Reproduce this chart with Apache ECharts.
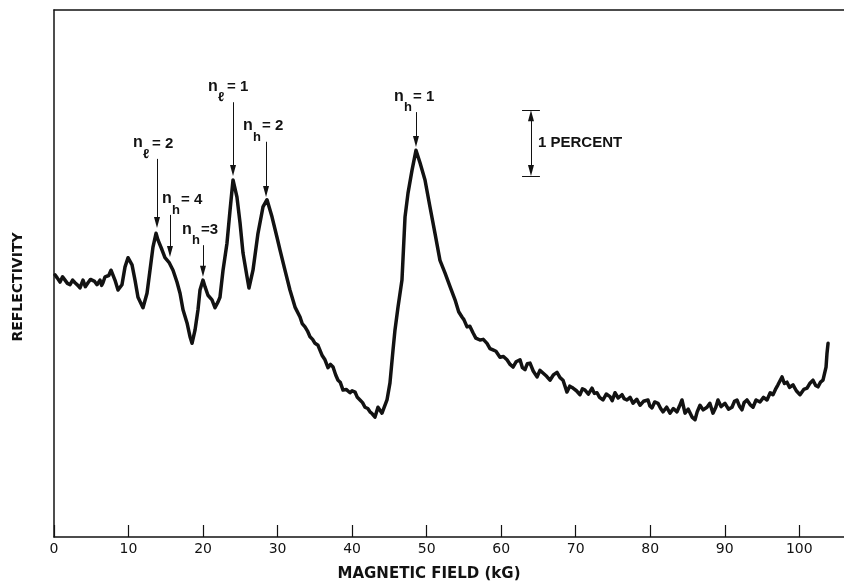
<!DOCTYPE html>
<html lang="en">
<head>
  <meta charset="UTF-8">
  <title>Reflectivity vs magnetic field</title>
  <style>
    * { margin: 0; padding: 0; }
    body { background: #fff; }
    #main { width: 844px; height: 582px; }
  </style>
</head>
<body>
  <div id="main"></div>
  <script src="https://cdn.jsdelivr.net/npm/echarts@6/dist/echarts.min.js"></script>
  <script type="text/javascript">
  // trace: [field kG, reflectivity %]
  var lowField = [
    [0.13, 3.98], [0.45, 3.93], [0.81, 3.87], [1.15, 3.95], [1.48, 3.90], [1.80, 3.85],
    [2.15, 3.83], [2.50, 3.90], [2.82, 3.86], [3.20, 3.82], [3.49, 3.78], [3.89, 3.90],
    [4.20, 3.80], [4.56, 3.86], [4.90, 3.91], [5.10, 3.93], [5.45, 3.88], [5.77, 3.83],
    [6.17, 3.90], [6.40, 3.82], [6.57, 3.86], [6.85, 3.95], [7.11, 3.93], [7.35, 3.97],
    [7.65, 4.05], [8.18, 3.90], [8.59, 3.75], [9.12, 3.83], [9.53, 4.10], [9.93, 4.24],
    [10.47, 4.13], [10.87, 3.90], [11.27, 3.64], [11.94, 3.48]
  ];
  var peakField = [
    [12.48, 3.70], [12.88, 4.05], [13.28, 4.40], [13.69, 4.61], [13.95, 4.51], [14.49, 4.36],
    [14.89, 4.24], [15.43, 4.17], [15.97, 4.05], [16.50, 3.87], [16.91, 3.70], [17.31, 3.45],
    [17.85, 3.25], [18.25, 3.04], [18.52, 2.94], [18.92, 3.14], [19.32, 3.45], [19.59, 3.75],
    [19.99, 3.90], [20.26, 3.80], [20.66, 3.67], [21.20, 3.60], [21.60, 3.48], [22.01, 3.57],
    [22.27, 3.64], [22.68, 4.05], [23.21, 4.46], [23.62, 4.96], [24.02, 5.42], [24.55, 5.16],
    [24.96, 4.77], [25.36, 4.31], [25.90, 3.95], [26.16, 3.78], [26.70, 4.05], [27.37, 4.61],
    [28.04, 5.01], [28.58, 5.12], [29.25, 4.86], [29.92, 4.55], [30.32, 4.36], [30.99, 4.05],
    [31.66, 3.75], [32.34, 3.49], [33.01, 3.34], [33.30, 3.24], [33.68, 3.19], [34.00, 3.13],
    [34.35, 3.04], [34.70, 3.00], [35.02, 2.94], [35.42, 2.91], [35.96, 2.76], [36.36, 2.69],
    [36.76, 2.57], [37.10, 2.62], [37.44, 2.58], [37.80, 2.46], [38.11, 2.38], [38.40, 2.35],
    [38.78, 2.23], [39.20, 2.24], [39.72, 2.19], [40.00, 2.22], [40.39, 2.20], [40.70, 2.12],
    [41.06, 2.08], [41.40, 2.04], [41.73, 1.97], [42.10, 1.95], [42.40, 1.90], [42.70, 1.87],
    [43.07, 1.82], [43.47, 1.97], [44.01, 1.88], [44.68, 2.08], [45.08, 2.34]
  ];
  var mainPeak = [
    [45.49, 2.84], [45.75, 3.14], [46.16, 3.49], [46.69, 3.90], [47.10, 4.86], [47.50, 5.22],
    [48.04, 5.57], [48.57, 5.87], [49.11, 5.68], [49.78, 5.42], [50.45, 5.01], [51.12, 4.61],
    [51.79, 4.20], [52.46, 4.01], [53.14, 3.80], [53.81, 3.60], [54.30, 3.42], [54.74, 3.34],
    [55.00, 3.30], [55.42, 3.19], [55.80, 3.20], [56.22, 3.10], [56.60, 3.02], [57.16, 2.99],
    [57.60, 3.00], [58.10, 2.94], [58.50, 2.86], [58.90, 2.84], [59.30, 2.82], [59.84, 2.73],
    [60.30, 2.74]
  ];
  var tailField = [
    [60.78, 2.69], [61.20, 2.62], [61.59, 2.58], [62.00, 2.66], [62.53, 2.69], [62.85, 2.57],
    [63.20, 2.54], [63.50, 2.63], [63.87, 2.64], [64.30, 2.52], [64.81, 2.43], [65.20, 2.53],
    [65.61, 2.49], [66.10, 2.44], [66.55, 2.38], [67.00, 2.46], [67.49, 2.50], [67.90, 2.42],
    [68.30, 2.38], [68.83, 2.20], [69.20, 2.29], [69.64, 2.26], [70.10, 2.22], [70.58, 2.16],
    [70.90, 2.25], [71.25, 2.23], [71.70, 2.17], [72.19, 2.26], [72.50, 2.18], [72.86, 2.19],
    [73.20, 2.12], [73.66, 2.08], [74.10, 2.17], [74.60, 2.13], [74.90, 2.07], [75.27, 2.19],
    [75.70, 2.11], [76.21, 2.16], [76.50, 2.10], [76.88, 2.08], [77.30, 2.12], [77.69, 2.03],
    [78.20, 2.09], [78.63, 2.00], [79.10, 2.06], [79.70, 2.08], [79.95, 1.99], [80.24, 1.96],
    [80.60, 2.05], [81.04, 2.03], [81.40, 1.95], [81.71, 1.90], [82.20, 1.97], [82.65, 1.88],
    [83.10, 1.95], [83.59, 1.90], [83.90, 1.98], [84.26, 2.08], [84.67, 1.88], [85.10, 1.94],
    [85.61, 1.82], [86.01, 1.78], [86.30, 1.90], [86.68, 2.00], [87.10, 1.93], [87.62, 1.97],
    [88.00, 2.03], [88.42, 1.88], [88.80, 1.97], [89.09, 2.08], [89.50, 1.98], [90.03, 2.03],
    [90.50, 1.94], [90.97, 1.97], [91.30, 2.06], [91.64, 2.08], [92.00, 1.98], [92.31, 1.93],
    [92.60, 2.04], [92.98, 2.08], [93.40, 2.01], [93.79, 1.97], [94.20, 2.08], [94.73, 2.05],
    [95.20, 2.12], [95.67, 2.08], [96.10, 2.19], [96.47, 2.16], [96.80, 2.24], [97.14, 2.31],
    [97.68, 2.43], [98.00, 2.33], [98.35, 2.35], [98.70, 2.27], [99.16, 2.31], [99.60, 2.22],
    [100.10, 2.16], [100.60, 2.24], [101.04, 2.26], [101.40, 2.33], [101.84, 2.38], [102.20, 2.30],
    [102.51, 2.28], [102.85, 2.35], [103.18, 2.38], [103.59, 2.58], [103.72, 2.79], [103.86, 2.94]
  ];
  var fieldTicks = [0, 10, 20, 30, 40, 50, 60, 70, 80, 90, 100];

  // Landau level labels: subscript, rest of label, field of arrow, arrow top, arrow tip
  var levelSub   = ['ℓ', 'h', 'h', 'ℓ', 'h', 'h'];
  var levelRest  = ['= 2', '= 4', '=3', '= 1', '= 2', '= 1'];
  var levelField = [13.82, 15.56, 19.99, 24.02, 28.45, 48.57];
  var levelTop   = [5.74, 4.89, 4.43, 6.60, 6.00, 6.45];
  var levelTip   = [4.69, 4.25, 3.95, 5.48, 5.16, 5.92];
  // scale bar: 1 percent
  var scaleField = 64.0;
  var scaleLow = 5.48;
  var scaleHigh = 6.48;

  var ink = '#121212';
  var labelDx = [-24, -8, -21, -25, -23, -22];
  var pxPerUnit = 527 / 8;
  var headHalf = 5.5 / pxPerUnit;

  var trace = lowField.concat(peakField, mainPeak, tailField);

  var arrows = [];
  for (var i = 0; i < levelField.length; i++) {
    arrows.push([
      { coord: [levelField[i], levelTop[i]], symbol: 'none' },
      { coord: [levelField[i], levelTip[i] + headHalf], symbol: 'triangle' }
    ]);
  }
  // double headed bar + the two caps
  arrows.push([
    { coord: [scaleField, scaleHigh - headHalf], symbol: 'triangle' },
    { coord: [scaleField, scaleLow + headHalf], symbol: 'triangle' }
  ]);
  arrows.push([
    { coord: [scaleField - 1.2, scaleHigh], symbol: 'none' },
    { coord: [scaleField + 1.2, scaleHigh], symbol: 'none' }
  ]);
  arrows.push([
    { coord: [scaleField - 1.2, scaleLow], symbol: 'none' },
    { coord: [scaleField + 1.2, scaleLow], symbol: 'none' }
  ]);

  var myChart = echarts.init(document.getElementById('main'));
  var option = {
    animation: false,
    backgroundColor: '#fff',
    grid: { left: 54, right: 0, top: 10, bottom: 45 },
    xAxis: [
      {
        type: 'value',
        min: 0,
        max: 106,
        position: 'bottom',
        axisLine: { onZero: false, lineStyle: { color: ink, width: 1.5 } },
        axisTick: { inside: true, length: 12, customValues: fieldTicks, lineStyle: { color: ink, width: 1.2 } },
        axisLabel: { customValues: fieldTicks, color: ink, fontSize: 14, fontFamily: 'DejaVu Sans', margin: 5 },
        splitLine: { show: false }
      },
      {
        type: 'value',
        min: 0,
        max: 106,
        position: 'top',
        axisLine: { onZero: false, lineStyle: { color: ink, width: 1.5 } },
        axisTick: { show: false },
        axisLabel: { show: false },
        splitLine: { show: false }
      }
    ],
    yAxis: {
      type: 'value',
      min: 0,
      max: 8,
      axisLine: { show: true, onZero: false, lineStyle: { color: ink, width: 1.5 } },
      axisTick: { show: false },
      axisLabel: { show: false },
      splitLine: { show: false }
    },
    series: [{
      type: 'line',
      data: trace,
      showSymbol: false,
      silent: true,
      lineStyle: { color: ink, width: 3.5, join: 'round', cap: 'round' },
      markLine: {
        silent: true,
        symbolSize: [6, 11],
        lineStyle: { color: ink, width: 1, type: 'solid' },
        label: { show: false },
        emphasis: { disabled: true },
        data: arrows
      }
    }]
  };
  myChart.setOption(option);

  // texts placed next to the arrows
  var annoFont = '"Liberation Sans", Arial, sans-serif';
  var items = [];
  for (var j = 0; j < levelField.length; j++) {
    var p = myChart.convertToPixel({ gridIndex: 0 }, [levelField[j], levelTop[j]]);
    var x0 = p[0] + labelDx[j];
    var base = p[1] - 11;
    items.push({ type: 'text', x: x0, y: base + 3, silent: true,
      style: { text: 'n', font: 'bold 16px ' + annoFont, fill: ink, verticalAlign: 'bottom' } });
    items.push({ type: 'text', x: x0 + 10, y: base + 13, silent: true,
      style: { text: levelSub[j], font: 'bold 13px ' + annoFont, fill: ink, verticalAlign: 'bottom' } });
    items.push({ type: 'text', x: x0 + 19, y: base + 3, silent: true,
      style: { text: levelRest[j], font: 'bold 15px ' + annoFont, fill: ink, verticalAlign: 'bottom' } });
  }
  var sp = myChart.convertToPixel({ gridIndex: 0 }, [scaleField, (scaleLow + scaleHigh) / 2]);
  items.push({ type: 'text', x: sp[0] + 7, y: sp[1], silent: true,
    style: { text: '1 PERCENT', font: 'bold 15px ' + annoFont, fill: ink, verticalAlign: 'middle' } });

  items.push({ type: 'text', x: 18, y: 287, rotation: Math.PI / 2, silent: true,
    style: { text: 'REFLECTIVITY', font: 'bold 14px "DejaVu Sans"', fill: ink, align: 'center', verticalAlign: 'middle' } });
  items.push({ type: 'text', x: 429, y: 574, silent: true,
    style: { text: 'MAGNETIC FIELD (kG)', font: 'bold 15px "DejaVu Sans"', fill: ink, align: 'center', verticalAlign: 'middle' } });

  myChart.setOption({ graphic: { elements: items } });
  </script>
</body>
</html>
